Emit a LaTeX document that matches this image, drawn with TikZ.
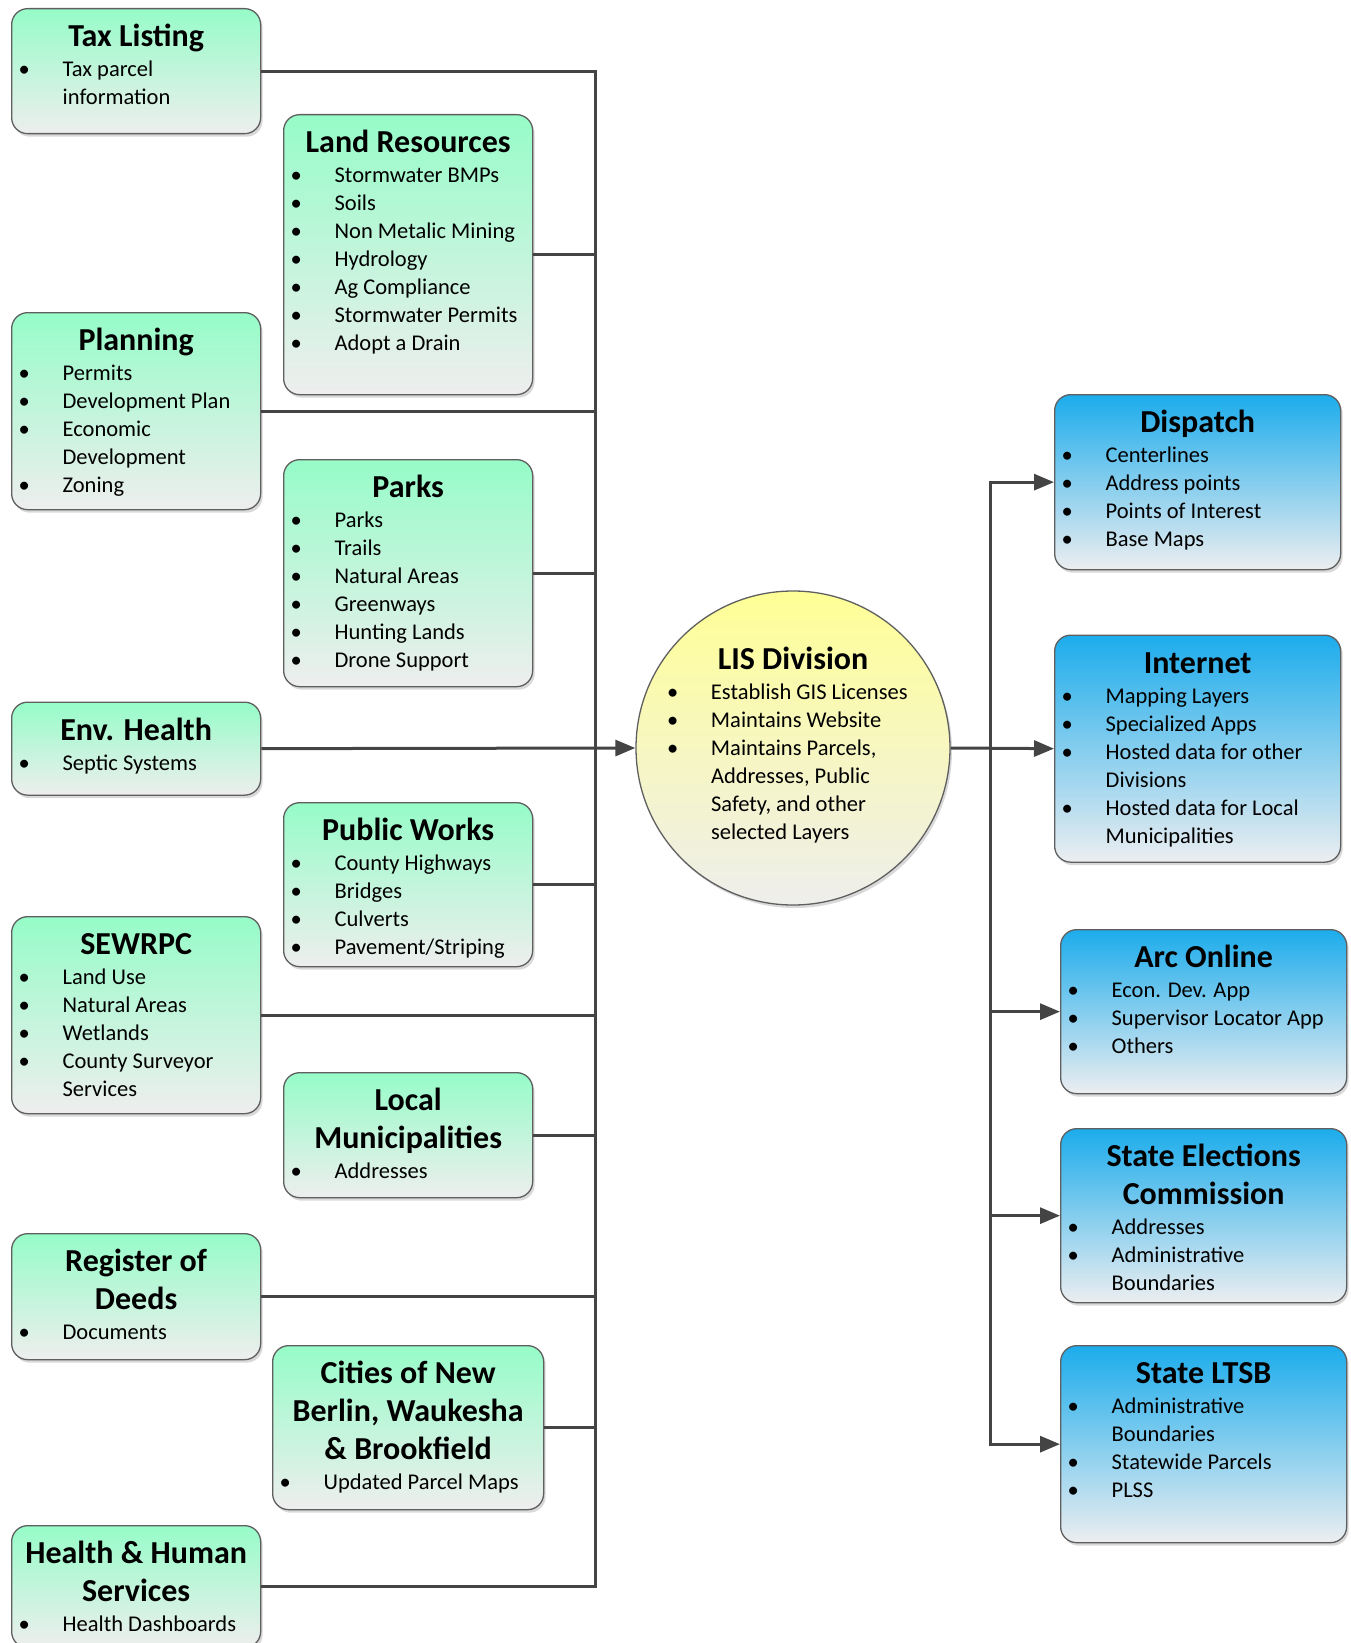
\documentclass[tikz,border=0pt]{standalone}
\usepackage{fontspec}
\setmainfont{Carlito}
\usetikzlibrary{arrows.meta,shadows}

\definecolor{greentop}{RGB}{150,252,200}
\definecolor{greenbot}{RGB}{238,238,238}
\definecolor{bluetop}{RGB}{28,172,236}
\definecolor{bluebot}{RGB}{236,238,240}
\definecolor{yellowtop}{RGB}{255,255,150}
\definecolor{yellowbot}{RGB}{238,238,236}
\definecolor{edgegray}{RGB}{95,95,95}
\definecolor{linegray}{RGB}{68,68,68}

\newcommand{\titlefnt}{\fontsize{32}{37.7}\selectfont\bfseries}
\newcommand{\itemfnt}{\fontsize{22.5}{28}\selectfont}
\newcommand{\itm}{\par\hangindent=51pt\hangafter=1\noindent\makebox[51pt][l]{\hspace{7pt}\textbullet}}
\newcommand{\nxt}{\hfil\break}
\newcommand{\card}[4]{\parbox[t][#2][t]{#1}{{\titlefnt\centering\rule{0pt}{38pt}#3\par}\vspace{2pt}{\itemfnt\raggedright #4\par}}}

\begin{document}
\begin{tikzpicture}[x=1pt, y=-1pt]

\tikzstyle{every node} = [inner sep=0pt, text=black]
\tikzstyle{card} = [rectangle, anchor=north west, draw=edgegray, line width=1.3pt, rounded corners=16pt, drop shadow={shadow xshift=2pt, shadow yshift=-3pt, opacity=0.3}]
\tikzstyle{dept} = [card, top color=greentop, bottom color=greenbot]
\tikzstyle{user} = [card, top color=bluetop, bottom color=bluebot]
\tikzstyle{hub} = [circle, draw=edgegray, line width=1.3pt, minimum size=314pt, inner sep=-22pt, top color=yellowtop, bottom color=yellowbot, drop shadow={shadow xshift=2pt, shadow yshift=-3pt, opacity=0.3}]
\tikzstyle{link} = [draw=linegray, line width=3pt]
\tikzstyle{feed} = [link, -{Triangle[length=20pt, width=16pt]}]

\useasboundingbox (0,0) rectangle (1351,1643);
\clip (0,0) rectangle (1351,1643);

\node[dept] (tax) at (11,8) {\card{249pt}{125pt}{Tax Listing}{\itm Tax parcel\nxt information}};
\node[dept] (plan) at (11,312) {\card{249pt}{197pt}{Planning}{\itm Permits \itm Development Plan \itm Economic\nxt Development \itm Zoning}};
\node[dept] (env) at (11,701.5) {\card{249pt}{93pt}{Env. Health}{\itm Septic Systems}};
\node[dept] (sew) at (11,916) {\card{249pt}{197pt}{SEWRPC}{\itm Land Use \itm Natural Areas \itm Wetlands \itm County Surveyor\nxt Services}};
\node[dept] (deeds) at (11,1233) {\card{249pt}{126pt}{Register of\\Deeds}{\itm Documents}};
\node[dept] (hhs) at (11,1525) {\card{249pt}{122pt}{Health \& Human\\Services}{\itm Health Dashboards}};

\node[dept] (land) at (283,114) {\card{249pt}{280pt}{Land Resources}{\itm Stormwater BMPs \itm Soils \itm Non Metalic Mining \itm Hydrology \itm Ag Compliance \itm Stormwater Permits \itm Adopt a Drain}};
\node[dept] (parks) at (283,459) {\card{249pt}{227pt}{Parks}{\itm Parks \itm Trails \itm Natural Areas \itm Greenways \itm Hunting Lands \itm Drone Support}};
\node[dept] (works) at (283,802) {\card{249pt}{164pt}{Public Works}{\itm County Highways \itm Bridges \itm Culverts \itm Pavement/Striping}};
\node[dept] (local) at (283,1072) {\card{249pt}{125pt}{Local\\Municipalities}{\itm Addresses}};
\node[dept] (cities) at (272,1345) {\card{271pt}{164pt}{Cities of New\\Berlin, Waukesha\\\& Brookfield}{\itm Updated Parcel Maps}};

\node[hub] (lis) at (793,748) {\card{266pt}{234pt}{LIS Division}{\itm Establish GIS Licenses \itm Maintains Website \itm Maintains Parcels,\nxt Addresses, Public\nxt Safety, and other\nxt selected Layers}};

\node[user] (dispatch) at (1054,394) {\card{286pt}{175pt}{Dispatch}{\itm Centerlines \itm Address points \itm Points of Interest \itm Base Maps}};
\node[user] (internet) at (1054,634.5) {\card{286pt}{227pt}{Internet}{\itm Mapping Layers \itm Specialized Apps \itm Hosted data for other\nxt Divisions \itm Hosted data for Local\nxt Municipalities}};
\node[user] (arc) at (1060,929) {\card{286pt}{164pt}{Arc Online}{\itm Econ. Dev. App \itm Supervisor Locator App \itm Others}};
\node[user] (sec) at (1060,1128) {\card{286pt}{174pt}{State Elections\\Commission}{\itm Addresses \itm Administrative\nxt Boundaries}};
\node[user] (ltsb) at (1060,1345) {\card{286pt}{197pt}{State LTSB}{\itm Administrative\nxt Boundaries \itm Statewide Parcels \itm PLSS}};

\coordinate (busl) at (595,748);
\coordinate (busr) at (990,748);

\draw[link] (tax.east) -| (hhs.east -| busl) -- (hhs.east);
\draw[link] (land.east) -- (land.east -| busl);
\draw[link] (plan.east) -- (plan.east -| busl);
\draw[link] (parks.east) -- (parks.east -| busl);
\draw[link] (works.east) -- (works.east -| busl);
\draw[link] (sew.east) -- (sew.east -| busl);
\draw[link] (local.east) -- (local.east -| busl);
\draw[link] (deeds.east) -- (deeds.east -| busl);
\draw[link] (cities.east) -- (cities.east -| busl);
\draw[feed] (env.east) -- (lis.west);

\draw[feed] (lis.east) -- (internet.west);
\draw[feed] (busr) |- (dispatch.west);
\draw[feed] (busr) |- (ltsb.west);
\draw[feed] (arc.west -| busr) -- (arc.west);
\draw[feed] (sec.west -| busr) -- (sec.west);

\end{tikzpicture}
\end{document}
